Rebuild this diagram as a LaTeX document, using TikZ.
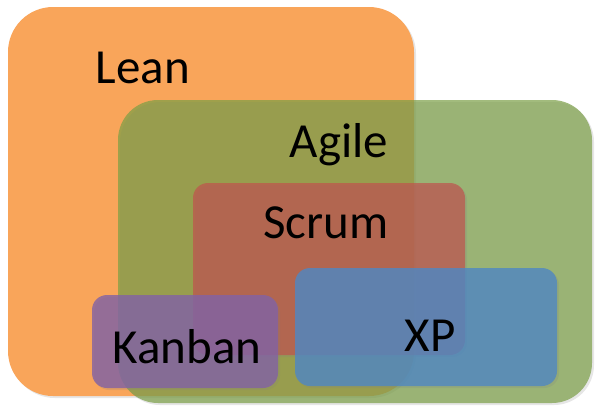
\documentclass[tikz,border=0pt]{standalone}
\usepackage{fontspec}
\setmainfont{Carlito}
\usetikzlibrary{shadows}
\definecolor{leanC}{RGB}{249,165,90}
\definecolor{agileC}{RGB}{122,158,70}
\definecolor{scrumC}{RGB}{192,82,77}
\definecolor{xpC}{RGB}{79,135,195}
\definecolor{kanbanC}{RGB}{130,98,165}
\tikzset{
  setbox/.style={rounded corners=#1, drop shadow={opacity=0.2, shadow xshift=2pt, shadow yshift=-2pt}},
  lbl/.style={anchor=base, font=\fontsize{49}{55}\selectfont, text=black},
}
\begin{document}
\begin{tikzpicture}[x=1pt,y=-1pt]
  \useasboundingbox (0,0) rectangle (597,407);
  % nested method areas
  \fill[leanC, setbox=45pt] (8,7) rectangle (414,396);
  \fill[agileC, fill opacity=0.7, setbox=40pt] (118,100) rectangle (592,403);
  \fill[scrumC, fill opacity=0.7, setbox=15pt] (193,183) rectangle (465,355);
  \fill[xpC, fill opacity=0.8, setbox=15pt] (295,268) rectangle (557,386);
  \fill[kanbanC, fill opacity=0.8, setbox=15pt] (92,295) rectangle (278,388);
  % labels
  \node[lbl] (lean) at (143,83) {Lean};
  \node[lbl] (agile) at (339,157) {Agile};
  \node[lbl] (scrum) at (326,238) {Scrum};
  \node[lbl] (xp) at (430,351) {XP};
  \node[lbl] (kanban) at (187,363) {Kanban};
\end{tikzpicture}
\end{document}
